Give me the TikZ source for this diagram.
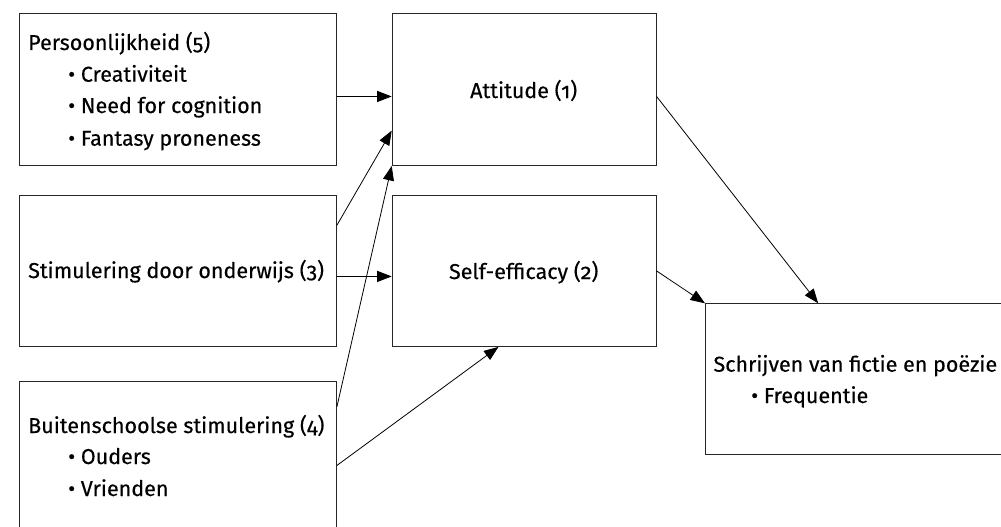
\documentclass[tikz,border=0pt]{standalone}
\usepackage{fontspec}
\setmainfont{Fira Sans}[Numbers=OldStyle,FakeBold=0.35]
\usetikzlibrary{arrows.meta,calc}
\begin{document}
\begin{tikzpicture}[x=1pt,y=-1pt,
  box/.style={draw=black!85,line width=0.9pt,rectangle,inner sep=0pt,anchor=north west},
  txt/.style={anchor=base west,inner sep=0pt,font=\fontsize{21.5}{26}\selectfont},
  ctxt/.style={anchor=base,inner sep=0pt,font=\fontsize{21.5}{26}\selectfont},
  conn/.style={line width=0.8pt,-{Triangle[length=14.5pt,width=11pt]}}]
\useasboundingbox (0,0) rectangle (1001,527);
% boxes
\node[box,minimum width=317pt,minimum height=151.7pt] (P) at (19,13.3) {};
\node[box,minimum width=317pt,minimum height=151pt] (S) at (19,195) {};
\node[box,minimum width=317pt,minimum height=151pt] (B) at (19,380.7) {};
\node[box,minimum width=264pt,minimum height=151.7pt] (A) at (391.7,13.3) {};
\node[box,minimum width=264pt,minimum height=151pt] (E) at (391.7,195) {};
\node[box,minimum width=317pt,minimum height=151pt] (W) at (705,303.3) {};
% texts
\node[txt] (pt0) at (28,50) {Persoonlijkheid (5)};
\node[txt] (pt1) at (68,81.7) {\textbullet\ Creativiteit};
\node[txt] (pt2) at (68,113) {\textbullet\ Need for cognition};
\node[txt] (pt3) at (68,145.7) {\textbullet\ Fantasy proneness};
\node[txt] (st0) at (28,278) {Stimulering door onderwijs (3)};
\node[txt] (bt0) at (28,433) {Buitenschoolse stimulering (4)};
\node[txt] (bt1) at (68,464) {\textbullet\ Ouders};
\node[txt] (bt2) at (68,496) {\textbullet\ Vrienden};
\node[ctxt] (at0) at (523.7,98) {Attitude (1)};
\node[ctxt] (et0) at (523.7,279) {Self-efficacy (2)};
\node[txt] (wt0) at (713.3,371.7) {Schrijven van fictie en poëzie};
\node[txt] (wt1) at (751,403) {\textbullet\ Frequentie};
% connectors
\draw[conn] ($(P.north east)!0.545!(P.south east)$) -- ($(A.north west)!0.545!(A.south west)$);
\draw[conn] ($(S.north east)!0.199!(S.south east)$) -- ($(A.north west)!0.769!(A.south west)$);
\draw[conn] ($(B.north east)!0.172!(B.south east)$) -- (A.south west);
\draw[conn] ($(S.north east)!0.536!(S.south east)$) -- ($(E.north west)!0.536!(E.south west)$);
\draw[conn] ($(B.north east)!0.558!(B.south east)$) -- ($(E.south west)!0.403!(E.south east)$);
\draw[conn] ($(A.north east)!0.545!(A.south east)$) -- ($(W.north west)!0.356!(W.north east)$);
\draw[conn] (E.east) -- (W.north west);
\end{tikzpicture}
\end{document}
